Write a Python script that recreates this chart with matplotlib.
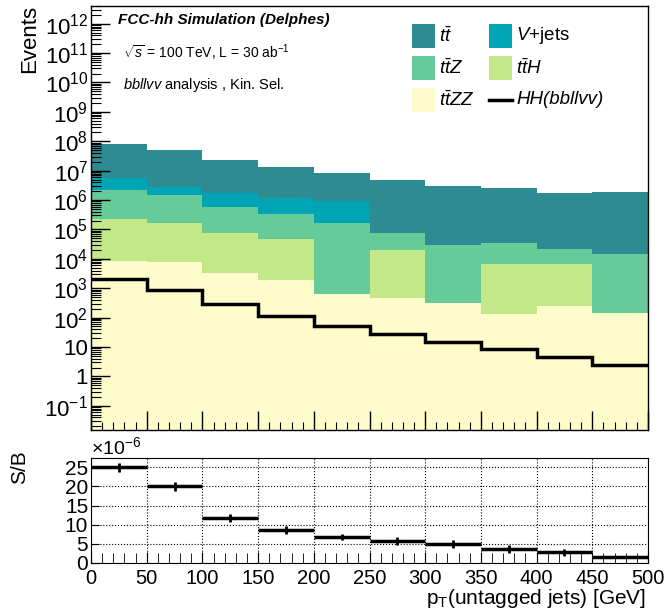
import numpy as np
import matplotlib
matplotlib.use("Agg")
import matplotlib.pyplot as plt
from matplotlib.patches import Rectangle
from matplotlib.lines import Line2D
from matplotlib.ticker import FixedLocator, LogLocator, FuncFormatter, MultipleLocator, NullFormatter

plt.rcParams['font.family'] = ['Liberation Sans', 'DejaVu Sans']
plt.rcParams['mathtext.fontset'] = 'custom'
plt.rcParams['mathtext.rm'] = 'Liberation Sans'
plt.rcParams['mathtext.it'] = 'Liberation Sans:italic'
plt.rcParams['mathtext.bf'] = 'Liberation Sans:bold'

# ---- data ----
edges = [0, 50, 100, 150, 200, 250, 300, 350, 400, 450, 500]
ttbar = [7.3e7, 4.7e7, 2.2e7, 1.24e7, 7.6e6, 4.9e6, 2.9e6, 2.5e6, 1.7e6, 1.9e6]
vjets = [3.5e6, 1.3e6, 1.2e6, 8.2e5, 7.6e5, 0, 0, 0, 500, 0]
ttz = [1.98e6, 1.33e6, 5.2e5, 2.8e5, 1.6e5, 5.6e4, 2.9e4, 2.8e4, 1.5e4, 1.49e4]
tth = [2.1e5, 1.6e5, 7.0e4, 4.5e4, 0, 1.9e4, 0, 6.6e3, 6.45e3, 0]
ttzz = [8.3e3, 7.5e3, 3.2e3, 1.9e3, 630, 470, 325, 130, 250, 145]
hh = [2000, 900, 280, 115, 51, 27, 14.8, 8.3, 4.4, 2.5]
sb = [25.0, 20.0, 11.8, 8.6, 6.8, 5.8, 4.9, 3.7, 2.8, 1.6]
sb_err = [1.15, 1.1, 1.0, 0.95, 0.85, 1.0, 1.1, 1.0, 0.9, 0.3]

labels = [r"$t\bar{t}$", r"$V$+jets", r"$t\bar{t}Z$", r"$t\bar{t}H$", r"$t\bar{t}ZZ$", "HH(bbllvv)"]
colors = {'tt': '#2e8b91', 'vj': '#00a5b5', 'ttz': '#66cb99', 'tth': '#c2e888', 'ttzz': '#fffccc'}

W, H = 664, 613
fig = plt.figure(figsize=(W / 100, H / 100), dpi=100)

def fx(x):
    return x / W

def fy(y):
    return 1 - y / H

ax = fig.add_axes([fx(91), fy(430), fx(648) - fx(91), fy(6) - fy(430)])
ax2 = fig.add_axes([fx(91), fy(563), fx(648) - fx(91), fy(458) - fy(563)])

e = np.array(edges, dtype=float)
c1 = np.array(ttzz, dtype=float)
c2 = c1 + np.array(tth)
c3 = c2 + np.array(ttz)
c4 = c3 + np.array(vjets)
c5 = c4 + np.array(ttbar)
base = 1e-4
for c, col in [(c5, colors['tt']), (c4, colors['vj']), (c3, colors['ttz']),
               (c2, colors['tth']), (c1, colors['ttzz'])]:
    ax.stairs(c, e, baseline=base, fill=True, color=col, lw=0)
ax.stairs(np.array(hh), e, baseline=None, color='black', lw=2.5)

ax.set_yscale('log')
ax.set_xlim(0, 500)
ax.set_ylim(0.015, 4e12)

def logfmt(v, pos):
    n = int(round(np.log10(v)))
    if n == 0:
        return "1"
    if n == 1:
        return "10"
    return r"$10^{%d}$" % n

ax.yaxis.set_major_locator(FixedLocator([10.0 ** k for k in range(-1, 13)]))
ax.yaxis.set_major_formatter(FuncFormatter(logfmt))
ax.yaxis.set_minor_locator(LogLocator(base=10, subs=np.arange(2, 10), numticks=100))
ax.yaxis.set_minor_formatter(NullFormatter())
ax.xaxis.set_major_locator(MultipleLocator(50))
ax.xaxis.set_minor_locator(MultipleLocator(10))
ax.tick_params(axis='both', which='both', direction='in', top=False, right=False)
ax.tick_params(axis='y', which='major', length=14, width=1, labelsize=16, pad=2)
ax.tick_params(axis='y', which='minor', length=7, width=0.8)
ax.tick_params(axis='x', which='major', length=14, width=1, labelbottom=False)
ax.tick_params(axis='x', which='minor', length=6, width=0.8)
for s in ax.spines.values():
    s.set_linewidth(1.0)

fig.text(fx(30), fy(5), "Events", rotation=90, ha='center', va='top', fontsize=16)

fig.text(fx(118), fy(20), "FCC-hh Simulation (Delphes)", fontsize=11,
         fontweight='bold', fontstyle='italic', ha='left', va='center')
fig.text(fx(123), fy(53), r"$\sqrt{s}$ = 100 TeV, L = 30 ab$^{-1}$", fontsize=10,
         ha='left', va='center')
fig.text(fx(123), fy(85), r"$bbllvv$ analysis , Kin. Sel.", fontsize=10.5,
         ha='left', va='center')

# legend (manual)
leg_items = [
    (412, 36, colors['tt'], labels[0]),
    (489, 36, colors['vj'], labels[1]),
    (412, 68, colors['ttz'], labels[2]),
    (489, 68, colors['tth'], labels[3]),
    (412, 100, colors['ttzz'], labels[4]),
]
for x0, yc, col, lab in leg_items:
    fig.patches.append(Rectangle((fx(x0), fy(yc + 12)), fx(23), 24 / H,
                                 transform=fig.transFigure, facecolor=col, edgecolor='none'))
    fig.text(fx(x0 + 27), fy(yc), lab, fontsize=13.5, ha='left', va='center')
fig.lines.append(Line2D([fx(489), fx(512)], [fy(100), fy(100)], color='black', lw=2.5,
                        transform=fig.transFigure))
fig.text(fx(516), fy(100), labels[5], fontsize=13.5, fontstyle='italic', ha='left', va='center')

# ratio panel
centers = 0.5 * (e[:-1] + e[1:])
sbv = np.array(sb)
sbe = np.array(sb_err)
ax2.hlines(sbv, e[:-1], e[1:], color='black', lw=2.5)
ax2.vlines(centers, sbv - sbe, sbv + sbe, color='black', lw=2)
ax2.set_xlim(0, 500)
ax2.set_ylim(0, 27.4)
ax2.xaxis.set_major_locator(MultipleLocator(50))
ax2.xaxis.set_minor_locator(MultipleLocator(10))
ax2.yaxis.set_major_locator(MultipleLocator(5))
ax2.grid(True, which='major', linestyle=':', color='black', lw=0.8)
ax2.tick_params(axis='both', which='both', direction='in', top=False, right=False)
ax2.tick_params(axis='x', which='major', length=8, labelsize=14.5, pad=4)
ax2.tick_params(axis='x', which='minor', length=7)
ax2.tick_params(axis='y', which='major', length=6, labelsize=15, pad=2)
fig.text(fx(91), fy(447), r"$\times10^{-6}$", fontsize=14, ha='left', va='center')
fig.text(fx(20), fy(450), "S/B", rotation=90, ha='center', va='top', fontsize=15)
fig.text(fx(646), fy(598), r"p$_{\mathrm{T}}$(untagged jets) [GeV]", ha='right', va='center', fontsize=15)

fig.savefig("out.png", dpi=100)
